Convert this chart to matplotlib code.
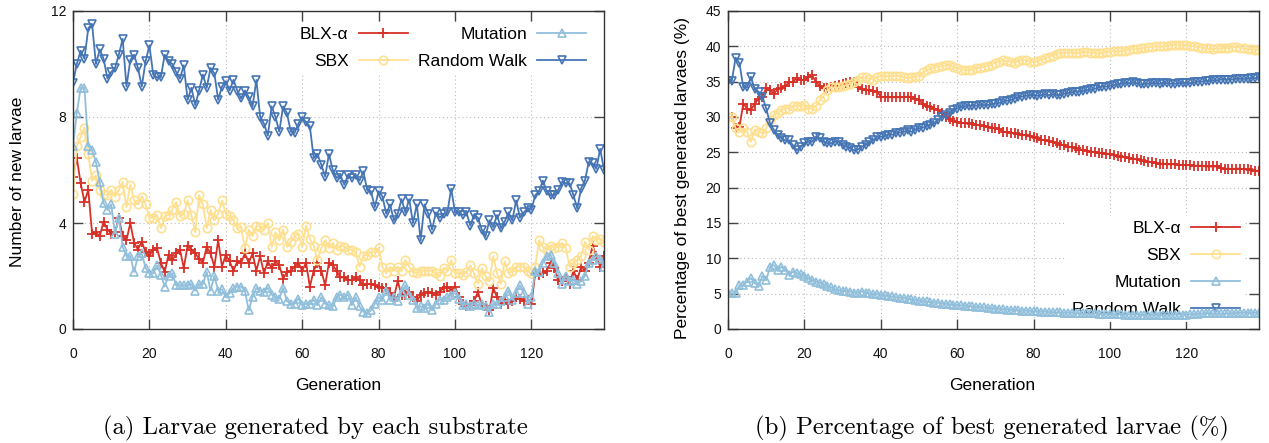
import matplotlib
matplotlib.use('Agg')
import matplotlib.pyplot as plt

generations = list(range(140))

# ---------- (a) number of new larvae per substrate ----------
left_blx = [5.75, 6.45, 5.5, 4.8, 5.25, 3.6, 3.65, 3.5, 4.05, 3.75,
            3.6, 3.65, 4.2, 3.5, 3.35, 4.0, 3.25, 3.0, 3.3, 2.9,
            2.75, 3.0, 3.05, 2.5, 2.15, 2.8, 2.6, 2.85, 3.0, 2.3,
            3.15, 3.0, 2.85, 2.65, 2.5, 3.1, 2.85, 2.35, 3.35, 2.35,
            2.8, 2.55, 2.2, 2.55, 2.5, 2.85, 2.5,
            2.85, 2.2, 2.75, 2.1, 2.55, 2.3, 2.55, 2.4, 1.9, 2.15,
            2.2, 2.35, 2.5, 2.2, 2.5, 1.6, 2.2, 2.5, 2.2, 1.65,
            2.5, 2.4, 2.2, 1.95, 1.95, 1.85, 1.85, 1.95, 1.85, 1.65,
            1.7, 1.7, 1.65, 1.6, 1.55, 1.55, 1.35, 1.2, 1.8, 1.3,
            1.3, 1.4, 1.2, 1.05, 1.3, 1.35,
            1.4, 1.35, 1.3, 1.4, 1.55, 1.6, 1.45, 1.6, 1.2, 0.95,
            0.85, 0.9, 1.05, 1.4, 0.9, 0.85, 0.7, 1.55, 1.2, 0.95,
            1.1, 0.95, 1.05, 1.2, 1.15, 1.05, 1.1, 0.95, 2.1, 2.05,
            2.1, 2.2, 2.5, 2.3, 1.85, 1.8, 1.95, 1.7, 2.2, 1.85,
            2.35, 2.2, 2.5, 3.15, 2.75, 2.35, 2.75]

left_sbx = [5.1, 6.9, 7.25, 7.6, 6.6, 5.6, 5.8, 5.25, 5.1, 5.05,
            5.25, 5.0, 5.25, 5.55, 4.6, 5.45, 4.85, 4.7, 5.0, 4.7,
            4.2, 4.2, 4.3, 3.8, 4.25, 4.3, 4.5, 4.8, 4.25, 4.35,
            4.85, 4.3, 3.65, 5.05, 4.7, 3.8, 4.5, 4.1, 4.35, 4.85,
            4.35, 4.25, 4.1, 3.8, 3.85, 3.05, 3.75,
            3.5, 3.9, 3.85, 3.75, 4.0, 3.1, 3.65, 3.35, 3.75, 3.1,
            3.3, 3.5, 3.6, 3.1, 3.9, 3.4, 3.15, 2.6, 3.05, 3.35,
            3.05, 3.25, 3.0, 3.15, 3.1, 3.0, 3.0, 2.9, 2.35, 2.75,
            2.8, 2.9, 2.9, 3.05, 2.35, 2.1, 2.35, 2.2, 2.35, 2.2,
            2.6, 2.35, 2.15, 2.1, 2.2, 2.2,
            2.2, 2.2, 2.1, 2.0, 2.3, 2.2, 2.6, 2.1, 2.1, 2.05,
            2.15, 2.4, 2.1, 1.7, 2.3, 2.0, 1.8, 2.75, 2.1, 1.7,
            2.55, 2.1, 2.2, 2.35, 2.35, 2.35, 2.2, 2.1, 2.35, 3.35,
            3.1, 3.0, 3.15, 3.05, 3.1, 3.25, 3.05, 2.35, 2.5, 2.6,
            2.75, 3.3, 3.0, 3.5, 3.35, 3.4, 3.3]

left_mut = [6.9, 8.15, 9.1, 9.1, 6.9, 6.75, 6.3, 5.55, 4.75, 4.5,
            4.7, 3.6, 4.2, 3.1, 2.75, 2.75, 2.15, 2.75, 2.85, 2.3,
            2.1, 2.1, 2.4, 2.05, 1.6, 2.0, 2.1, 1.65, 1.65, 1.65,
            1.65, 1.7, 1.45, 1.7, 1.7, 2.15, 1.45, 2.0, 1.45, 1.5,
            1.2, 1.35, 1.55, 1.6, 1.6, 1.45, 0.7,
            1.2, 1.55, 1.45, 1.4, 1.55, 1.3, 1.2, 1.15, 1.55, 1.05,
            0.95, 0.95, 1.15, 0.9, 0.95, 0.95, 1.1, 0.9, 1.2, 0.95,
            0.9, 0.85, 1.2, 1.3, 1.2, 1.3, 0.9, 1.2, 0.85, 0.65,
            0.6, 0.7, 0.95, 1.2, 1.1, 1.45, 1.1, 1.2, 1.05, 1.4,
            1.65, 1.3, 1.1, 0.8, 0.85, 0.8,
            0.95, 0.7, 0.95, 1.1, 1.1, 1.2, 1.3, 1.35, 1.15, 0.9,
            0.95, 0.85, 0.95, 0.9, 0.95, 0.85, 0.65, 0.95, 0.95, 1.05,
            1.2, 1.45, 1.1, 1.35, 1.65, 1.35, 0.95, 1.2, 2.2, 2.15,
            2.5, 2.75, 2.8, 2.5, 2.1, 1.7, 2.0, 1.8, 1.85, 1.7,
            1.8, 2.0, 2.5, 2.6, 2.75, 2.65, 2.35]

left_rw = [9.3, 10.0, 10.5, 10.2, 11.35, 11.5, 10.0, 10.55, 10.2, 9.45,
           9.7, 9.85, 10.35, 10.95, 9.15, 10.15, 10.35, 9.85, 9.15, 10.1,
           10.7, 9.6, 9.5, 9.5, 10.35, 10.1, 10.0, 9.7, 9.45, 9.95,
           8.65, 9.1, 8.45, 9.0, 9.6, 9.1, 9.85, 9.65, 8.65, 9.15,
           9.35, 9.0, 9.4, 9.0, 8.7, 9.0, 8.75,
           8.4, 9.4, 8.0, 7.75, 7.3, 8.4, 8.0, 7.45, 8.4, 8.15,
           7.45, 7.4, 7.75, 8.0, 7.8, 7.65, 6.45, 6.6, 6.2, 5.75,
           6.6, 6.0, 5.7, 5.8, 5.45, 5.8, 5.7, 5.8, 5.6, 5.95,
           5.25, 5.2, 4.6, 5.2, 5.0, 4.35, 4.7, 4.1, 4.35, 4.9,
           4.4, 4.9, 4.0, 4.7, 3.35, 4.7,
           4.35, 3.75, 4.4, 4.2, 4.35, 4.4, 5.3, 4.4, 4.4, 4.3,
           4.4, 3.9, 4.3, 4.2, 3.75, 3.5, 4.1, 3.85, 4.3, 3.8,
           4.05, 4.4, 4.1, 4.85, 4.2, 4.4, 4.55, 4.5, 5.05, 5.2,
           5.6, 5.2, 5.05, 5.05, 5.25, 5.55, 5.5, 5.5, 5.05, 4.55,
           5.3, 5.6, 6.3, 6.25, 6.05, 6.8, 6.0]

# ---------- (b) percentage of best generated larvae ----------
right_blx = [30.0, 30.0, 28.4, 28.6, 31.9, 31.2, 31.0, 31.9, 32.6, 32.9,
             34.1, 33.8, 33.3, 33.9, 34.1, 34.4, 34.9, 35.0, 35.5, 35.2,
             35.3, 35.6, 35.9, 35.0, 34.4, 34.1, 34.1, 34.2, 34.4, 34.5,
             34.7, 34.8, 35.0, 35.0, 34.2, 33.9, 33.8, 33.8, 33.7, 33.6,
             32.9, 32.8, 32.8, 32.8, 32.8, 32.8, 32.8, 32.9, 32.8, 32.6,
             32.4, 31.9, 31.6, 31.4, 31.2, 31.0, 30.5, 30.0, 29.7, 29.5,
             29.3, 29.2, 29.1, 29.1, 29.0, 28.9, 28.8, 28.7, 28.6, 28.5,
             28.4, 28.3,
             27.9, 27.9, 27.8, 27.7, 27.6, 27.5, 27.4, 27.3, 27.2, 27.0,
             26.8, 26.7, 26.6, 26.4, 26.3, 26.1, 26.0, 25.8, 25.7, 25.6,
             25.4, 25.3, 25.2, 25.1, 25.0, 24.9, 24.9, 24.8, 24.8, 24.6,
             24.5, 24.4, 24.3, 24.2, 24.1, 24.0, 23.9, 23.8, 23.7, 23.6,
             23.5, 23.4, 23.4, 23.3, 23.3, 23.3, 23.2, 23.2, 23.2, 23.2,
             23.1, 23.1, 23.1, 23.0, 23.0, 23.0, 23.0, 22.8, 22.6, 22.7,
             22.6, 22.7, 22.7, 22.6, 22.6, 22.5, 22.4, 22.4]

right_sbx = [30.0, 30.0, 28.4, 27.9, 28.4, 27.9, 26.5, 28.2, 27.9, 27.7,
             28.4, 29.6, 30.3, 30.5, 31.0, 31.2, 31.2, 31.5, 31.6, 31.6,
             31.7, 31.2, 31.2, 31.5, 32.4, 32.9, 33.8, 34.2, 34.2, 34.2,
             34.4, 34.5, 34.7, 35.0, 35.2, 35.6, 35.6, 35.4, 35.3, 35.6,
             35.8, 35.8, 35.8, 35.8, 35.8, 35.8, 35.6, 35.5, 35.6, 35.7,
             35.8, 36.3, 36.6, 36.9, 37.0, 37.1, 37.2, 37.3, 37.4, 37.1,
             36.9, 36.7, 36.7, 36.7, 36.7, 36.9, 37.0, 37.1, 37.2, 37.4,
             37.7, 37.8,
             38.0, 37.9, 37.8, 37.7, 37.9, 38.1, 38.0, 37.8, 37.8, 37.9,
             38.1, 38.3, 38.5, 38.7, 38.9, 39.1, 39.0, 39.1, 39.1, 39.0,
             39.1, 39.2, 39.2, 39.1, 39.0, 39.0, 39.1, 39.2, 39.2, 39.3,
             39.3, 39.4, 39.4, 39.5, 39.6, 39.6, 39.7, 39.8, 39.9, 39.9,
             40.0, 40.0, 40.0, 40.1, 40.2, 40.2, 40.2, 40.2, 40.2, 40.1,
             40.0, 39.9, 39.8, 39.7, 39.7, 39.6, 39.7, 39.7, 39.8, 39.8,
             39.9, 39.9, 39.8, 39.7, 39.6, 39.6, 39.5, 39.5]

right_mut = [5.05, 5.05, 5.1, 6.2, 6.2, 6.7, 7.2, 6.5, 6.1, 7.5,
             6.9, 8.8, 9.05, 8.35, 8.8, 8.35, 7.65, 8.1, 7.9, 7.8,
             7.5, 7.2, 6.95, 6.7, 6.55, 6.35, 6.1, 5.9, 5.6, 5.5,
             5.4, 5.4, 5.3, 5.15, 5.15, 5.3, 5.15, 5.05, 4.95, 4.95,
             4.8, 4.75, 4.7, 4.6, 4.5, 4.45, 4.4, 4.3, 4.2, 4.1,
             4.0, 3.95, 3.9, 3.8, 3.75, 3.7, 3.6, 3.55, 3.5, 3.45,
             3.4, 3.35, 3.3, 3.25, 3.2, 3.15, 3.1, 3.05, 3.0, 2.95,
             2.9, 2.85, 2.8, 2.75, 2.7, 2.7, 2.65, 2.6, 2.6, 2.55,
             2.5, 2.5, 2.45, 2.45, 2.4, 2.4, 2.35, 2.35, 2.3, 2.3,
             2.3, 2.25, 2.25, 2.2, 2.2, 2.2, 2.2, 2.15, 2.15, 2.15,
             2.1, 2.1, 2.1, 2.1, 2.05, 2.05, 2.05, 2.05, 2.0, 2.0,
             2.0, 2.0, 2.0, 2.0, 2.0, 2.0, 2.0, 2.05, 2.05, 2.05,
             2.05, 2.1, 2.1, 2.15, 2.2, 2.25, 2.25, 2.2, 2.2, 2.2,
             2.2, 2.2, 2.25, 2.25, 2.3, 2.3, 2.3, 2.3, 2.3, 2.3]

right_rw = [35.1, 35.1, 38.4, 37.6, 34.2, 34.2, 35.7, 33.9, 33.6, 32.9,
            31.2, 29.1, 28.2, 27.5, 27.0, 26.7, 26.7, 26.0, 25.3, 25.8,
            26.3, 26.5, 26.5, 27.2, 27.0, 26.5, 26.3, 26.3, 26.5, 26.5,
            26.0, 25.8, 25.6, 25.3, 25.4, 25.8, 26.0, 26.4, 26.7, 27.1,
            27.2, 27.3, 27.5, 27.5, 27.7, 27.8, 27.9, 28.1, 27.9, 28.2,
            28.4, 28.5, 28.7, 28.9, 29.1, 29.6, 30.0, 30.3, 30.5, 31.0,
            31.2, 31.4, 31.5, 31.6, 31.6, 31.6, 31.7, 31.7, 31.7, 31.8,
            31.9, 32.0,
            32.2, 32.3, 32.4, 32.6, 32.8, 32.9, 33.0, 33.1, 33.1, 33.0,
            33.1, 33.2, 33.1, 33.2, 33.1, 33.1, 33.3, 33.4, 33.5, 33.6,
            33.6, 33.7, 33.8, 33.9, 34.0, 34.2, 34.3, 34.3, 34.4, 34.5,
            34.6, 34.7, 34.8, 34.8, 34.9, 34.8, 34.6, 34.7, 34.7, 34.8,
            34.8, 34.7, 34.8, 34.8, 34.7, 34.7, 34.8, 34.8, 34.8, 34.8,
            34.9, 35.0, 35.0, 35.1, 35.1, 35.2, 35.2, 35.3, 35.3, 35.3,
            35.3, 35.4, 35.4, 35.4, 35.4, 35.5, 35.5, 35.6]

series_names = ['BLX-\u03b1', 'SBX', 'Mutation', 'Random Walk']
left_ticks_y = [0, 4, 8, 12]
right_ticks_y = [0, 5, 10, 15, 20, 25, 30, 35, 40, 45]
x_ticks = [0, 20, 40, 60, 80, 100, 120]

colors = ['#d73027', '#fee090', '#91bfdb', '#4575b4']
markers = ['+', 'o', '^', 'v']

plt.rcParams['font.family'] = ['Liberation Sans', 'DejaVu Sans']

W, H = 1269, 443
fig = plt.figure(figsize=(W / 100, H / 100), dpi=100)


def rect(l, t, r, b):
    return [l / W, 1 - b / H, (r - l) / W, (b - t) / H]


ax1 = fig.add_axes(rect(73, 11, 604, 329))
ax2 = fig.add_axes(rect(728, 11, 1259, 329))


def style(ax, yticks):
    ax.set_xlim(0, 139)
    ax.set_ylim(yticks[0], yticks[-1])
    ax.set_xticks(x_ticks)
    ax.set_yticks(yticks)
    ax.tick_params(direction='in', length=7, width=1.0, color='#444444',
                   top=True, right=True, labelsize=10, labelcolor='#111111')
    ax.tick_params(axis='x', pad=13)
    ax.tick_params(axis='y', pad=5)
    ax.grid(True, color='#bbbbbb', linestyle=(0, (1, 2.5)), linewidth=0.8)
    ax.set_axisbelow(True)
    for s in ax.spines.values():
        s.set_color('#333333')
        s.set_linewidth(1.0)


def draw(ax, data):
    handles = []
    for vals, c, m in zip(data, colors, markers):
        if m == '+':
            kw = dict(markersize=7, markeredgewidth=1.3, markeredgecolor=c)
        else:
            kw = dict(markersize=6, markerfacecolor='none', markeredgecolor=c,
                      markeredgewidth=1.2)
        ln, = ax.plot(generations, vals, color=c, marker=m, linewidth=1.3,
                      zorder=2, **kw)
        handles.append(ln)
    return handles


style(ax1, left_ticks_y)
style(ax2, right_ticks_y)
h1 = draw(ax1, [left_blx, left_sbx, left_mut, left_rw])
h2 = draw(ax2, [right_blx, right_sbx, right_mut, right_rw])

leg_kw = dict(markerfirst=False, frameon=True, fontsize=12.5, handlelength=2.8,
              handletextpad=0.6, labelspacing=0.68, borderaxespad=0.0,
              borderpad=0.3, fancybox=False)
leg1 = ax1.legend(h1, series_names, ncol=2, loc='upper right',
                  bbox_to_anchor=(0.976, 0.966), columnspacing=0.6, **leg_kw)
leg2 = ax2.legend(h2, series_names, ncol=1, loc='lower right',
                  bbox_to_anchor=(0.974, 0.022), **leg_kw)
for leg in (leg1, leg2):
    leg.get_frame().set_facecolor('white')
    leg.get_frame().set_edgecolor('none')
    leg.get_frame().set_alpha(1.0)
    leg.set_zorder(1.5)

fig.text(18 / W, 1 - 182 / H, 'Number of new larvae', rotation=90,
         ha='center', va='center', fontsize=12.5)
fig.text(683 / W, 1 - 178 / H, 'Percentage of best generated larvaes (%)',
         rotation=90, ha='center', va='center', fontsize=12.5)
fig.text(338 / W, 1 - 386 / H, 'Generation', ha='center', va='center',
         fontsize=12.5)
fig.text(992 / W, 1 - 386 / H, 'Generation', ha='center', va='center',
         fontsize=12.5)

fig.text(315 / W, 1 - 428 / H, '(a) Larvae generated by each substrate',
         ha='center', va='center', fontsize=17.8, family=['cmr10', 'DejaVu Serif'])
fig.text(992 / W, 1 - 428 / H, '(b) Percentage of best generated larvae (%)',
         ha='center', va='center', fontsize=17.8, family=['cmr10', 'DejaVu Serif'])

fig.savefig('out.png', dpi=100)
